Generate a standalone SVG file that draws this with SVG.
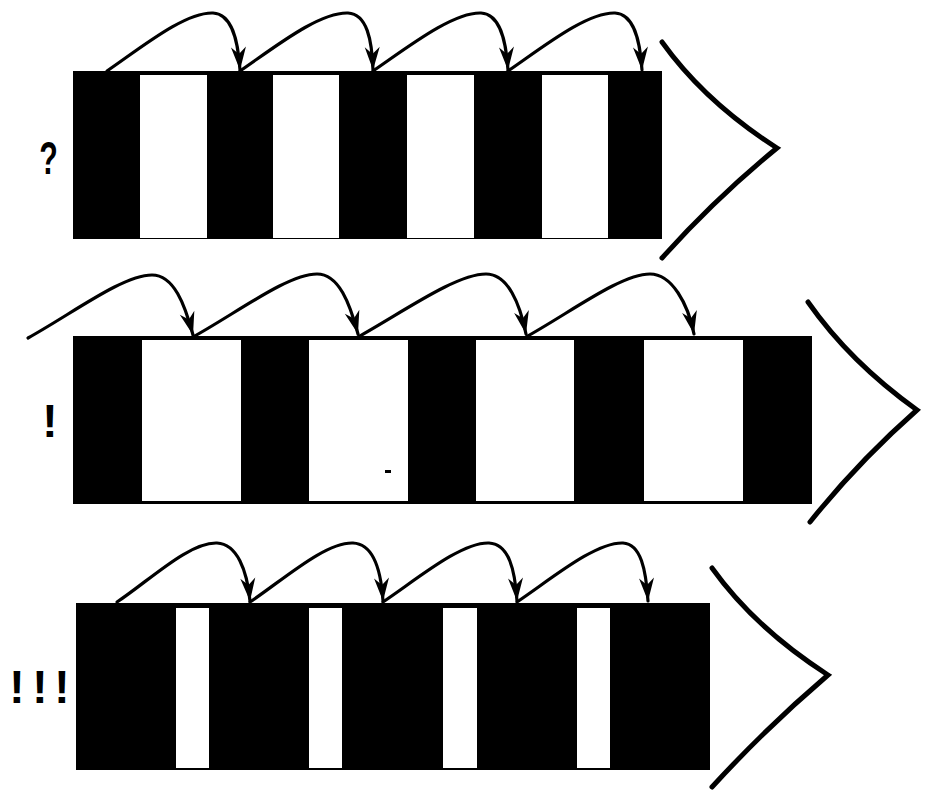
<svg xmlns="http://www.w3.org/2000/svg" width="934" height="805" viewBox="0 0 934 805">
<style>
.bar{fill:#000}
.gap{fill:#fff}
.arc{fill:none;stroke:#000;stroke-width:3.2;stroke-linecap:round}
.chev{fill:none;stroke:#000;stroke-width:5;stroke-linecap:round;stroke-linejoin:miter}
.lbl{font-family:"Liberation Sans",Arial,sans-serif;font-weight:bold;font-size:46px;fill:#000;text-anchor:middle}
</style>
<defs>
<marker id="ah" markerUnits="userSpaceOnUse" viewBox="-24 -8 25 16" refX="0" refY="0" markerWidth="25" markerHeight="16" orient="auto">
<path d="M0,0 L-23,-7.5 L-16,0 L-23,7.5 Z" fill="#000"/>
</marker>
</defs>
<rect width="934" height="805" fill="#fff"/>

<g id="row1">
<rect class="bar" x="73" y="71" width="589" height="168"/>
<rect class="gap" x="140" y="75" width="67" height="163"/>
<rect class="gap" x="273" y="75" width="66" height="163"/>
<rect class="gap" x="407" y="75" width="67" height="163"/>
<rect class="gap" x="542" y="75" width="66" height="163"/>
<text class="lbl" transform="translate(48.5,174) scale(0.66,1)" x="0" y="0">?</text>
</g>
<g id="chevron1">
<path class="chev" d="M662,42 Q705,102 777,148 Q716,198 662,258"/>
</g>

<g id="row2">
<rect class="bar" x="73" y="336" width="739" height="168"/>
<rect class="gap" x="142" y="340" width="99" height="161"/>
<rect class="gap" x="309" y="340" width="99" height="161"/>
<rect class="gap" x="476" y="340" width="98" height="161"/>
<rect class="gap" x="644" y="340" width="99" height="161"/>
<rect class="bar" x="385" y="470" width="6" height="3"/>
<text class="lbl" x="50" y="437">!</text>
</g>
<g id="chevron2">
<path class="chev" d="M808,302 Q850,362 917,410 Q858,462 810,522"/>
</g>

<g id="row3">
<rect class="bar" x="76" y="603" width="634" height="167"/>
<rect class="gap" x="176" y="608" width="33" height="160"/>
<rect class="gap" x="309" y="608" width="33" height="160"/>
<rect class="gap" x="443" y="608" width="34" height="160"/>
<rect class="gap" x="577" y="608" width="33" height="160"/>
<text class="lbl" x="17 40 62" y="703">!!!</text>
</g>
<g id="chevron3">
<path class="chev" d="M712,568 Q755,628 828,675 Q767,727 712,787"/>
</g>

<g id="connectors">
<path class="arc" marker-end="url(#ah)" d="M107,71 c35,-24 78,-59 106,-58 c19,1 25,27 27,57"/>
<path class="arc" marker-end="url(#ah)" d="M240,71 c35,-24 79,-59 108,-58 c19,1 24,27 25,57"/>
<path class="arc" marker-end="url(#ah)" d="M373,71 c35,-24 80,-59 108,-58 c19,1 25,27 27,57"/>
<path class="arc" marker-end="url(#ah)" d="M508,71 c35,-24 79,-59 107,-58 c19,1 25,27 27,57"/>

<path class="arc" marker-end="url(#ah)" d="M28,338 c45,-25 95,-63 124,-63 c22,0 33,30 41,60"/>
<path class="arc" marker-end="url(#ah)" d="M193,337 c45,-25 95,-63 124,-63 c22,0 33,30 41,60"/>
<path class="arc" marker-end="url(#ah)" d="M358,337 c45,-25 98,-63 128,-63 c22,0 34,30 40,60"/>
<path class="arc" marker-end="url(#ah)" d="M526,337 c45,-25 95,-63 124,-63 c22,0 38,30 44,60"/>

<path class="arc" marker-end="url(#ah)" d="M117,602 c33,-22 72,-60 100,-59 c20,1 30,27 33,58"/>
<path class="arc" marker-end="url(#ah)" d="M250,602 c33,-22 75,-60 103,-59 c20,1 28,27 30,58"/>
<path class="arc" marker-end="url(#ah)" d="M383,602 c33,-22 78,-60 106,-59 c20,1 26,27 28,58"/>
<path class="arc" marker-end="url(#ah)" d="M517,602 c33,-22 78,-60 106,-59 c18,1 23,27 25,58"/>
</g>
</svg>
